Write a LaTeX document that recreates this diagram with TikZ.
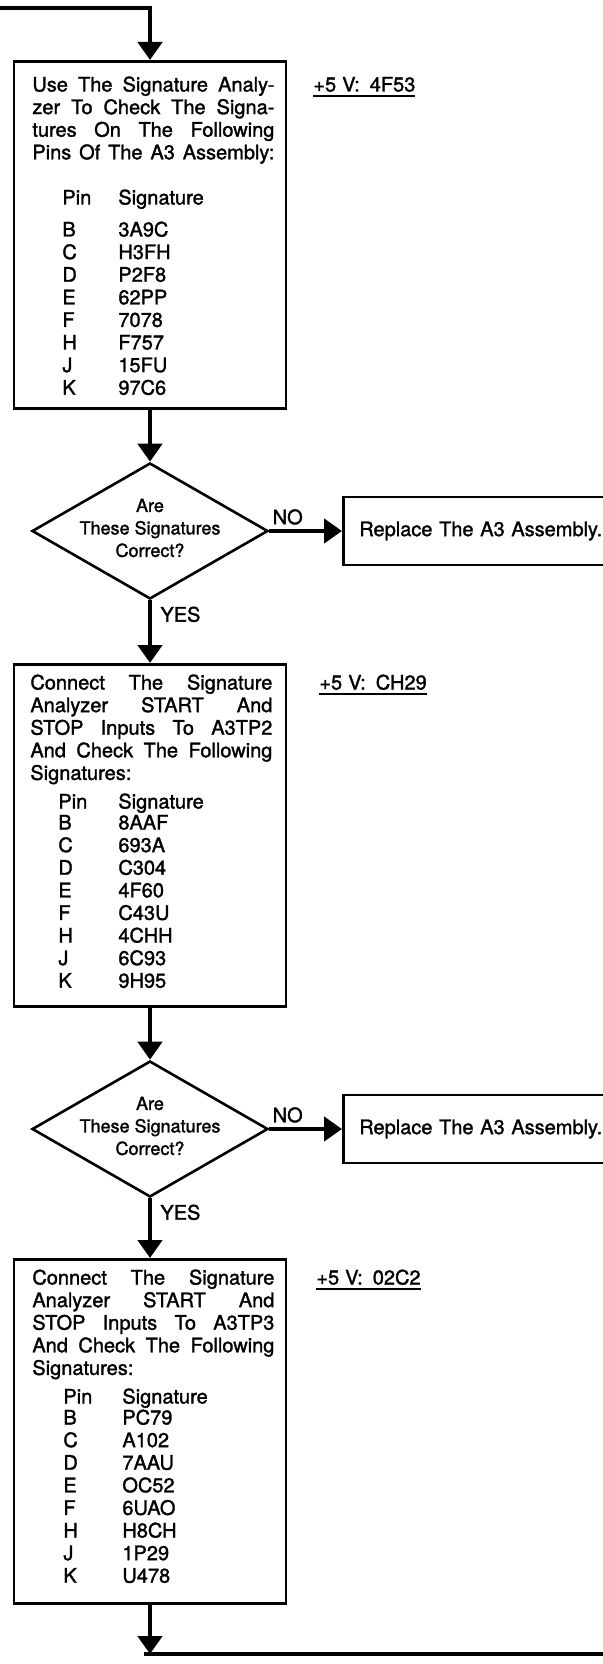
\documentclass[tikz,border=0pt]{standalone}
\usepackage{fontspec}
\setmainfont{TeX Gyre Heros}[FakeBold=1.5]
\usepackage{tikz}
\usetikzlibrary{shapes.geometric,arrows.meta}

\newcommand{\jline}[1]{{\spaceskip=0.28em plus 1fil\relax\makebox[121pt][s]{#1}}}
\newcommand{\ulabel}[1]{\setbox0=\hbox{#1}\rlap{\rule[-2.7pt]{\wd0}{0.9pt}}\box0}

\begin{document}
\begin{tikzpicture}[x=0.5pt,y=-0.5pt,
  chkbox/.style={draw,line width=1.3pt,minimum width=136pt,anchor=north,inner sep=0pt},
  repbox/.style={draw,line width=1.3pt,minimum width=149pt,minimum height=34pt,text width=133pt,inner sep=8pt,anchor=west,font=\fontsize{10}{12}\selectfont},
  qdiamond/.style={diamond,draw,line width=1.3pt,minimum width=118pt,minimum height=68pt,inner sep=0pt},
  qtext/.style={align=center,inner sep=0pt,font=\fontsize{9}{11.25}\selectfont},
  bodytext/.style={anchor=base west,inner sep=0pt,text width=121pt,font=\fontsize{10}{11.3}\selectfont},
  pintab/.style={anchor=base west,inner sep=0pt,font=\fontsize{10}{11.3}\selectfont},
  vlabel/.style={anchor=base west,inner sep=0pt,font=\fontsize{10}{12}\selectfont},
  answer/.style={inner sep=2pt,font=\fontsize{10}{12}\selectfont},
  flowline/.style={line width=2.4pt,-{Triangle[length=9pt,width=12pt]}}]
  \useasboundingbox (0,0) rectangle (603,1664);

  \coordinate (in) at (-10,8);
  \coordinate (turn) at (150,1654);
  \coordinate (out) at (620,1654);

  \node[chkbox,minimum height=173.5pt] (chk1) at (150,60) {};
  \node[bodytext] (chk1txt) at (32,91.5) {\jline{Use The Signature Analy-}\\\jline{zer To Check The Signa-}\\\jline{tures On The Following}\\\jline{Pins Of The A3 Assembly:}};
  \node[pintab] (chk1pins) at (62,204.5) {\begin{tabular}[t]{@{}p{28pt}@{}l@{}}Pin & Signature\\[4.7pt] B & 3A9C\\ C & H3FH\\ D & P2F8\\ E & 62PP\\ F & 7078\\ H & F757\\ J & 15FU\\ K & 97C6\end{tabular}};
  \node[vlabel] (v1) at (313,91.5) {\ulabel{+5\hspace{3pt}V:\hspace{5pt}4F53}};

  \node[qdiamond] (dec1) at (150,531) {};
  \node[qtext] (dec1txt) at (150,528) {Are\\These Signatures\\Correct?};
  \node[repbox] (rep1) at (342,531) {Replace The A3 Assembly.};

  \node[chkbox,minimum height=171pt] (chk2) at (150,663) {};
  \node[bodytext] (chk2txt) at (30,689.5) {\jline{Connect The Signature}\\\jline{Analyzer START And}\\\jline{STOP Inputs To A3TP2}\\\jline{And Check The Following}\\Signatures:};
  \node[pintab] (chk2pins) at (58,808.5) {\begin{tabular}[t]{@{}p{30pt}@{}l@{}}Pin & Signature\\[-0.8pt] B & 8AAF\\ C & 693A\\ D & C304\\ E & 4F60\\ F & C43U\\ H & 4CHH\\ J & 6C93\\ K & 9H95\end{tabular}};
  \node[vlabel] (v2) at (319,689.5) {\ulabel{+5\hspace{3pt}V:\hspace{5pt}CH29}};

  \node[qdiamond] (dec2) at (150,1129) {};
  \node[qtext] (dec2txt) at (150,1126) {Are\\These Signatures\\Correct?};
  \node[repbox] (rep2) at (342,1129) {Replace The A3 Assembly.};

  \node[chkbox,minimum height=172pt] (chk3) at (150,1258) {};
  \node[bodytext] (chk3txt) at (32,1284.5) {\jline{Connect The Signature}\\\jline{Analyzer START And}\\\jline{STOP Inputs To A3TP3}\\\jline{And Check The Following}\\Signatures:};
  \node[pintab] (chk3pins) at (63,1403.5) {\begin{tabular}[t]{@{}p{29.5pt}@{}l@{}}Pin & Signature\\[-0.8pt] B & PC79\\ C & A102\\ D & 7AAU\\ E & OC52\\ F & 6UAO\\ H & H8CH\\ J & 1P29\\ K & U478\end{tabular}};
  \node[vlabel] (v3) at (316,1284.5) {\ulabel{+5\hspace{3pt}V:\hspace{5pt}02C2}};

  \draw[flowline] (in) -| (chk1.north);
  \draw[flowline] (chk1.south) -- (dec1.north);
  \draw[flowline] (dec1.east) -- node[answer,pos=0,anchor=south west,xshift=-1.5pt] {NO} (rep1.west);
  \draw[flowline] (dec1.south) -- node[answer,pos=0,anchor=north west,xshift=2pt] {YES} (chk2.north);
  \draw[flowline] (chk2.south) -- (dec2.north);
  \draw[flowline] (dec2.east) -- node[answer,pos=0,anchor=south west,xshift=-1.5pt] {NO} (rep2.west);
  \draw[flowline] (dec2.south) -- node[answer,pos=0,anchor=north west,xshift=2pt] {YES} (chk3.north);
  \draw[flowline] (chk3.south) -- (turn);
  \draw[line width=2.4pt] ([xshift=-3pt]turn) -- (out);
\end{tikzpicture}
\end{document}
